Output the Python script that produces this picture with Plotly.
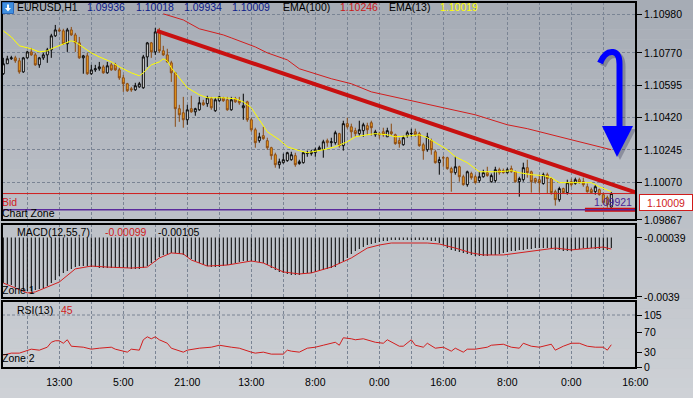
import plotly.graph_objects as go

# ---------------- data ----------------
opens = [1.10657,1.10711,1.10738,1.10743,1.10727,1.10667,1.10743,1.10775,1.10759,1.10705,
1.10743,1.10759,1.10786,1.10862,1.10894,1.10889,1.10819,1.10894,1.10867,1.10824,
1.10743,1.10754,1.10657,1.10678,1.10684,1.10694,1.10662,1.10705,1.10705,1.10678,
1.10635,1.10603,1.10576,1.10570,1.10586,1.10581,1.10748,1.10824,1.10775,1.10883,
1.10781,1.10759,1.10716,1.10662,1.10468,1.10446,1.10408,1.10468,1.10451,1.10462,
1.10500,1.10495,1.10522,1.10457,1.10511,1.10527,1.10516,1.10462,1.10522,1.10511,
1.10473,1.10505,1.10408,1.10354,1.10295,1.10322,1.10295,1.10257,1.10219,1.10165,
1.10176,1.10187,1.10192,1.10214,1.10171,1.10176,1.10225,1.10225,1.10230,1.10246,
1.10246,1.10295,1.10284,1.10284,1.10333,1.10268,1.10387,1.10370,1.10349,1.10333,
1.10349,1.10376,1.10392,1.10327,1.10333,1.10343,1.10316,1.10343,1.10327,1.10295,
1.10273,1.10322,1.10333,1.10343,1.10333,1.10273,1.10246,1.10295,1.10235,1.10176,
1.10203,1.10203,1.10144,1.10122,1.10154,1.10100,1.10057,1.10117,1.10100,1.10079,
1.10100,1.10122,1.10073,1.10079,1.10138,1.10133,1.10122,1.10144,1.10127,1.10073,
1.10084,1.10149,1.10127,1.10090,1.10084,1.10063,1.10111,1.10090,1.10019,1.09976,
1.10036,1.10014,1.10073,1.10063,1.10084,1.10073,1.10046,1.10030,1.10019,1.10030,
1.10003,1.09987,1.09936]

highs = [1.10743,1.10754,1.10754,1.10754,1.10743,1.10748,1.10781,1.10797,1.10770,1.10748,
1.10770,1.10797,1.10873,1.10921,1.10905,1.10900,1.10905,1.10910,1.10878,1.10856,
1.10759,1.10770,1.10705,1.10705,1.10721,1.10705,1.10721,1.10716,1.10716,1.10689,
1.10651,1.10608,1.10586,1.10608,1.10613,1.10759,1.10829,1.10829,1.10905,1.10905,
1.10808,1.10792,1.10727,1.10667,1.10489,1.10532,1.10489,1.10538,1.10473,1.10532,
1.10516,1.10538,1.10532,1.10527,1.10538,1.10532,1.10532,1.10532,1.10532,1.10532,
1.10549,1.10511,1.10419,1.10365,1.10338,1.10370,1.10311,1.10262,1.10230,1.10198,
1.10225,1.10235,1.10235,1.10230,1.10192,1.10235,1.10241,1.10246,1.10257,1.10268,
1.10300,1.10306,1.10311,1.10349,1.10338,1.10403,1.10419,1.10387,1.10365,1.10403,
1.10392,1.10392,1.10403,1.10354,1.10343,1.10365,1.10365,1.10387,1.10333,1.10311,
1.10322,1.10349,1.10360,1.10360,1.10343,1.10284,1.10338,1.10306,1.10246,1.10208,
1.10214,1.10208,1.10154,1.10208,1.10160,1.10111,1.10133,1.10127,1.10111,1.10127,
1.10138,1.10154,1.10117,1.10154,1.10149,1.10144,1.10149,1.10160,1.10133,1.10100,
1.10176,1.10192,1.10133,1.10095,1.10111,1.10122,1.10122,1.10095,1.10030,1.10046,
1.10041,1.10084,1.10090,1.10095,1.10095,1.10095,1.10063,1.10041,1.10057,1.10036,
1.10014,1.09998,1.10018]

lows = [1.10651,1.10711,1.10732,1.10716,1.10657,1.10662,1.10738,1.10754,1.10700,1.10689,
1.10732,1.10716,1.10743,1.10856,1.10883,1.10813,1.10775,1.10862,1.10775,1.10738,
1.10657,1.10651,1.10651,1.10667,1.10673,1.10657,1.10657,1.10673,1.10673,1.10624,
1.10559,1.10559,1.10559,1.10565,1.10581,1.10576,1.10694,1.10743,1.10759,1.10770,
1.10754,1.10716,1.10613,1.10370,1.10397,1.10365,1.10381,1.10446,1.10430,1.10457,
1.10484,1.10478,1.10462,1.10451,1.10505,1.10505,1.10457,1.10457,1.10500,1.10489,
1.10408,1.10397,1.10343,1.10257,1.10284,1.10300,1.10246,1.10192,1.10149,1.10144,
1.10171,1.10181,1.10187,1.10154,1.10165,1.10171,1.10208,1.10214,1.10208,1.10241,
1.10203,1.10262,1.10262,1.10273,1.10257,1.10241,1.10360,1.10311,1.10316,1.10322,
1.10316,1.10327,1.10322,1.10316,1.10306,1.10316,1.10316,1.10322,1.10273,1.10257,
1.10268,1.10311,1.10316,1.10316,1.10262,1.10192,1.10235,1.10219,1.10171,1.10111,
1.10154,1.10138,1.10019,1.10111,1.10073,1.10052,1.10046,1.10084,1.10063,1.10068,
1.10095,1.10100,1.10068,1.10068,1.10111,1.10117,1.10117,1.10122,1.10068,1.09992,
1.10073,1.10095,1.10014,1.10063,1.10014,1.10057,1.10009,1.10003,1.09944,1.09965,
1.10009,1.10003,1.10046,1.10057,1.10063,1.10046,1.10014,1.10009,1.10003,1.09998,
1.09949,1.09933,1.09934]

closes = [1.10711,1.10738,1.10743,1.10727,1.10667,1.10743,1.10775,1.10759,1.10705,1.10743,
1.10759,1.10786,1.10862,1.10894,1.10889,1.10819,1.10894,1.10867,1.10824,1.10743,
1.10754,1.10657,1.10678,1.10684,1.10694,1.10662,1.10700,1.10678,1.10678,1.10635,
1.10603,1.10565,1.10570,1.10592,1.10603,1.10748,1.10824,1.10775,1.10883,1.10781,
1.10759,1.10721,1.10662,1.10468,1.10435,1.10408,1.10462,1.10451,1.10468,1.10500,
1.10489,1.10527,1.10473,1.10516,1.10532,1.10511,1.10462,1.10516,1.10505,1.10500,
1.10484,1.10408,1.10354,1.10284,1.10316,1.10306,1.10257,1.10214,1.10165,1.10181,
1.10192,1.10230,1.10219,1.10165,1.10181,1.10230,1.10230,1.10235,1.10246,1.10257,
1.10289,1.10284,1.10289,1.10338,1.10268,1.10387,1.10370,1.10343,1.10333,1.10354,
1.10381,1.10354,1.10365,1.10343,1.10327,1.10327,1.10349,1.10333,1.10279,1.10279,
1.10311,1.10338,1.10334,1.10327,1.10268,1.10241,1.10316,1.10246,1.10176,1.10192,
1.10202,1.10144,1.10122,1.10154,1.10100,1.10057,1.10127,1.10095,1.10068,1.10100,
1.10122,1.10106,1.10106,1.10138,1.10122,1.10122,1.10138,1.10127,1.10073,1.10090,
1.10149,1.10122,1.10073,1.10073,1.10068,1.10111,1.10090,1.10014,1.09976,1.10036,
1.10014,1.10068,1.10057,1.10084,1.10068,1.10057,1.10019,1.10014,1.10046,1.10003,
1.09960,1.09949,1.10009]

bars = list(range(len(closes)))

ema13_idx = [0,2,4,7,9,11,12,14,16,17,18,20,22,24,27,29,32,34,35,37,39,40,41,42,44,46,49,51,55,58,
             60,62,64,66,69,71,74,76,80,83,86,88,91,93,96,98,102,104,106,108,111,113,116,119,122,
             124,127,129,132,135,137,139,142,144,147,149,151,152]
ema13_val = [1.10889,1.10856,1.10808,1.10792,1.10775,1.10781,1.10792,1.10808,1.10824,1.10835,
             1.10829,1.10797,1.10770,1.10748,1.10721,1.10694,1.10662,1.10646,1.10662,1.10705,
             1.10721,1.10738,1.10727,1.10689,1.10635,1.10581,1.10543,1.10527,1.10527,1.10522,
             1.10505,1.10473,1.10408,1.10343,1.10300,1.10262,1.10241,1.10230,1.10246,1.10262,
             1.10289,1.10316,1.10327,1.10333,1.10327,1.10316,1.10322,1.10327,1.10311,1.10284,
             1.10246,1.10208,1.10176,1.10127,1.10127,1.10127,1.10133,1.10122,1.10111,1.10106,
             1.10095,1.10068,1.10068,1.10068,1.10068,1.10046,1.10025,1.10019]

ema100_idx = [40,45,49,55,57,63,66,71,74,82,87,92,101,109,118,126,131,142,150,152]
ema100_val = [1.10981,1.10948,1.10900,1.10867,1.10851,1.10802,1.10770,1.10732,1.10684,1.10630,
              1.10603,1.10559,1.10516,1.10478,1.10435,1.10381,1.10360,1.10300,1.10257,1.10246]

trend_x = [38.4, 158.2]
trend_y = [1.10889, 1.10014]
zone_seg_x = [145.4, 158.2]
bid_price = 1.10009
zone_price = 1.09921

macd_hist = [-0.00307,-0.00313,-0.00319,-0.00331,-0.00342,-0.00348,-0.00354,-0.00354,-0.00348,-0.00342,
-0.00337,-0.00325,-0.00307,-0.00289,-0.00265,-0.00247,-0.00235,-0.00223,-0.00212,-0.00206,
-0.00206,-0.00206,-0.00212,-0.00212,-0.00218,-0.00218,-0.00218,-0.00218,-0.00218,-0.00218,
-0.00218,-0.00218,-0.00223,-0.00223,-0.00223,-0.00218,-0.00206,-0.00188,-0.00170,-0.00152,
-0.00140,-0.00134,-0.00128,-0.00128,-0.00134,-0.00140,-0.00152,-0.00164,-0.00176,-0.00188,
-0.00200,-0.00206,-0.00212,-0.00212,-0.00212,-0.00206,-0.00200,-0.00194,-0.00188,-0.00182,
-0.00176,-0.00176,-0.00176,-0.00176,-0.00182,-0.00188,-0.00200,-0.00218,-0.00229,-0.00241,
-0.00247,-0.00253,-0.00259,-0.00259,-0.00259,-0.00253,-0.00247,-0.00247,-0.00241,-0.00235,
-0.00229,-0.00223,-0.00218,-0.00212,-0.00194,-0.00176,-0.00158,-0.00134,-0.00116,-0.00104,
-0.00093,-0.00081,-0.00075,-0.00069,-0.00063,-0.00057,-0.00057,-0.00051,-0.00051,-0.00051,
-0.00051,-0.00051,-0.00051,-0.00051,-0.00051,-0.00051,-0.00051,-0.00057,-0.00057,-0.00069,
-0.00081,-0.00099,-0.00110,-0.00116,-0.00122,-0.00128,-0.00134,-0.00140,-0.00146,-0.00146,
-0.00146,-0.00146,-0.00140,-0.00140,-0.00134,-0.00128,-0.00122,-0.00116,-0.00116,-0.00110,
-0.00110,-0.00104,-0.00104,-0.00099,-0.00099,-0.00099,-0.00099,-0.00104,-0.00110,-0.00110,
-0.00116,-0.00116,-0.00116,-0.00110,-0.00104,-0.00099,-0.00099,-0.00099,-0.00104,-0.00104,
-0.00110,-0.00110,-0.00099]
macd_base = -0.00036

sig_idx = [0,6,8,14,18,22,26,32,36,39,42,45,47,51,56,62,65,70,74,77,82,87,91,94,97,106,109,113,
           117,120,125,129,134,138,142,147,150,152]
sig_val = [-0.00307,-0.00366,-0.00360,-0.00301,-0.00223,-0.00206,-0.00212,-0.00218,-0.00212,-0.00158,
           -0.00128,-0.00134,-0.00170,-0.00206,-0.00200,-0.00176,-0.00188,-0.00241,-0.00253,-0.00247,
           -0.00212,-0.00158,-0.00099,-0.00081,-0.00069,-0.00069,-0.00075,-0.00099,-0.00128,-0.00140,
           -0.00140,-0.00128,-0.00110,-0.00099,-0.00110,-0.00099,-0.00093,-0.00105]

rsi_idx = [0,2,4,6,7,9,11,12,13,14,15,16,17,20,22,24,27,28,31,32,34,35,36,37,38,39,41,42,45,46,
           49,52,54,57,59,62,63,65,67,70,71,72,74,76,78,80,82,83,84,85,87,88,90,93,95,96,99,100,
           102,103,105,106,108,110,112,113,115,116,118,121,122,125,127,129,130,132,134,135,137,
           138,140,142,144,146,148,150,151,152]
rsi_val = [24,28,28,34,36,34,40,50,53,53,48,55,42,40,36,38,40,36,30,36,34,55,61,57,61,55,48,38,30,34,
           38,40,44,40,38,30,28,30,26,26,34,32,30,38,40,44,48,50,44,59,57,55,57,50,48,55,42,42,
           55,44,40,48,38,40,32,38,30,36,36,40,44,46,40,38,48,42,40,42,46,34,42,48,48,42,40,40,34,45]

price_ticks = [1.10980, 1.10770, 1.10595, 1.10420, 1.10245, 1.10070, 1.09867]
macd_ticks = [-0.00039, -0.0039]
macd_ticktext = ["-0.00039", "-0.0039"]
rsi_ticks = [0, 30, 70, 105]
grid_idx = list(range(6, 159, 8))
time_label_idx = [14, 30, 46, 62, 78, 94, 110, 126, 142, 158]
time_labels = ["13:00", "5:00", "21:00", "13:00", "8:00", "0:00", "16:00", "8:00", "0:00", "16:00"]

# ---------------- layout helpers ----------------
W, H = 693, 398
PL, PR, PT, PB = 2, 636, 2, 368
def fx(x): return (x - PL) / (PR - PL)
def fy(y): return (PB - y) / (PB - PT)

FONT = "Liberation Sans"
FS = 10.5
GRID = "#7a8494"
RED = "#d01c1c"

fig = go.Figure()

fig.add_trace(go.Candlestick(
    x=bars, open=opens, high=highs, low=lows, close=closes,
    xaxis="x", yaxis="y", whiskerwidth=0,
    increasing=dict(line=dict(color="black", width=1), fillcolor="white"),
    decreasing=dict(line=dict(color="#8a4a12", width=1), fillcolor="#f5a21c"),
    hoverinfo="skip"))
fig.add_trace(go.Scatter(x=ema100_idx, y=ema100_val, mode="lines",
                         line=dict(color="#d21e1e", width=1), xaxis="x", yaxis="y"))
fig.add_trace(go.Scatter(x=ema13_idx, y=ema13_val, mode="lines",
                         line=dict(color="#ffff00", width=1), xaxis="x", yaxis="y"))
fig.add_trace(go.Scatter(x=trend_x, y=trend_y, mode="lines",
                         line=dict(color="#c81010", width=4), xaxis="x", yaxis="y"))
fig.add_trace(go.Scatter(x=zone_seg_x, y=[zone_price, zone_price], mode="lines",
                         line=dict(color="#cc0a0a", width=4), xaxis="x", yaxis="y"))

fig.add_trace(go.Bar(x=bars, y=[v - macd_base for v in macd_hist], base=macd_base,
                     width=0.25, marker=dict(color="black", line=dict(width=0)),
                     xaxis="x", yaxis="y2"))
fig.add_trace(go.Scatter(x=sig_idx, y=sig_val, mode="lines",
                         line=dict(color="#d21e1e", width=1), xaxis="x", yaxis="y2"))
fig.add_trace(go.Scatter(x=rsi_idx, y=rsi_val, mode="lines",
                         line=dict(color="#d21e1e", width=1), xaxis="x", yaxis="y3"))

ticktext_x = [time_labels[time_label_idx.index(i)] if i in time_label_idx else "" for i in grid_idx]

axis_common = dict(side="right", anchor="x", ticks="outside", ticklen=5, tickcolor="black",
                   tickwidth=1, zeroline=False, showline=False, automargin=False,
                   tickfont=dict(family=FONT, size=FS, color="black"))

fig.update_layout(
    width=W, height=H, margin=dict(l=PL, r=W - PR, t=PT, b=H - PB, autoexpand=False),
    paper_bgcolor="#bfc3c9", plot_bgcolor="rgba(0,0,0,0)",
    showlegend=False, hovermode=False,
    font=dict(family=FONT, size=FS, color="black"),
    xaxis=dict(domain=[0, 1], anchor="y3", range=[-0.325, 158.175], automargin=False,
               tickvals=grid_idx, ticktext=ticktext_x, showgrid=True, gridcolor=GRID,
               griddash="3px,2px", gridwidth=1, zeroline=False, showline=False,
               ticks="outside", ticklen=4, tickcolor="rgba(0,0,0,0)",
               rangeslider=dict(visible=False),
               tickfont=dict(family=FONT, size=FS, color="black")),
    yaxis=dict(domain=[fy(220), 1], range=[1.09866, 1.11045], tickvals=price_ticks,
               ticktext=[f"{v:.5f}" for v in price_ticks], showgrid=True, gridcolor=GRID,
               griddash="3px,2px", gridwidth=1, **axis_common),
    yaxis2=dict(domain=[fy(298), fy(224)], range=[-0.00396, 0.00044], tickvals=macd_ticks,
                ticktext=macd_ticktext, showgrid=False, **axis_common),
    yaxis3=dict(domain=[0, fy(301)], range=[-2, 133.3], tickvals=rsi_ticks,
                ticktext=[str(v) for v in rsi_ticks], showgrid=False, **axis_common),
)

shapes = []
# background gradient
top_c = (166, 172, 181)
bot_c = (206, 209, 214)
NB = 40
for k in range(NB):
    y0 = H * k / NB
    y1 = H * (k + 1) / NB
    t = (k + 0.5) / NB
    c = tuple(int(round(top_c[j] + (bot_c[j] - top_c[j]) * t)) for j in range(3))
    shapes.append(dict(type="rect", xref="paper", yref="paper", layer="below",
                       x0=fx(0), x1=fx(W), y0=fy(y1), y1=fy(y0),
                       fillcolor="rgb(%d,%d,%d)" % c, line=dict(width=0)))

# horizontal price lines
shapes.append(dict(type="line", xref="paper", yref="y", x0=0, x1=1, y0=bid_price, y1=bid_price,
                   line=dict(color=RED, width=1), layer="above"))
shapes.append(dict(type="line", xref="paper", yref="y", x0=0, x1=1, y0=zone_price, y1=zone_price,
                   line=dict(color="#5a2a9c", width=1.5), layer="above"))
# RSI upper dashed level
shapes.append(dict(type="line", xref="paper", yref="y3", x0=0, x1=1, y0=105, y1=105,
                   line=dict(color=GRID, width=1, dash="3px,2px"), layer="below"))

# blue hand-drawn arrow (shadow + arrow)
def hook_path(dx, dy):
    return (f"M{fx(600+dx)},{fy(63+dy)} Q{fx(605+dx)},{fy(51+dy)} {fx(613+dx)},{fy(52+dy)} "
            f"Q{fx(619.5+dx)},{fy(53+dy)} {fx(619.5+dx)},{fy(64+dy)} L{fx(619.5+dx)},{fy(128+dy)}")
def head_path(dx, dy):
    return (f"M{fx(602+dx)},{fy(126+dy)} L{fx(633+dx)},{fy(126+dy)} L{fx(617+dx)},{fy(157+dy)} Z")
shapes.append(dict(type="path", xref="paper", yref="paper", path=hook_path(3, 3),
                   line=dict(color="rgba(40,40,70,0.30)", width=6)))
shapes.append(dict(type="path", xref="paper", yref="paper", path=head_path(3, 3),
                   fillcolor="rgba(40,40,70,0.30)", line=dict(width=0)))
shapes.append(dict(type="path", xref="paper", yref="paper", path=hook_path(0, 0),
                   line=dict(color="#0000ff", width=6)))
shapes.append(dict(type="path", xref="paper", yref="paper", path=head_path(0, 0),
                   fillcolor="#0000ff", line=dict(width=0)))

# panel borders
for (ya, yb) in [(220, 2), (298, 224), (368, 301)]:
    shapes.append(dict(type="rect", xref="paper", yref="paper", x0=0, x1=1,
                       y0=fy(ya), y1=fy(yb), line=dict(color="black", width=2),
                       fillcolor="rgba(0,0,0,0)", layer="above"))

# header icon
shapes.append(dict(type="rect", xref="paper", yref="paper", x0=fx(2.5), x1=fx(13.5),
                   y0=fy(13.5), y1=fy(2.5), fillcolor="#3f8fe0",
                   line=dict(color="#2a66b8", width=1), layer="above"))
shapes.append(dict(type="path", xref="paper", yref="paper",
                   path=(f"M{fx(7)},{fy(4.5)} L{fx(9)},{fy(4.5)} L{fx(9)},{fy(8)} L{fx(11)},{fy(8)} "
                         f"L{fx(8)},{fy(11.5)} L{fx(5)},{fy(8)} L{fx(7)},{fy(8)} Z"),
                   fillcolor="white", line=dict(width=0), layer="above"))

fig.update_layout(shapes=shapes)

ann = []
def txt(x, y, s, color="black", size=FS):
    ann.append(dict(xref="paper", yref="paper", x=fx(x), y=fy(y), text=s, showarrow=False,
                    xanchor="left", yanchor="middle", borderpad=0, borderwidth=0,
                    font=dict(family=FONT, size=size, color=color)))

NAVY = "#0b1a8a"
txt(17, 7.5, "EURUSD,H1")
txt(87, 7.5, "1.09936", NAVY)
txt(136, 7.5, "1.10018", NAVY)
txt(184, 7.5, "1.09934", NAVY)
txt(232, 7.5, "1.10009", NAVY)
txt(283, 7.5, "EMA(100)")
txt(340, 7.5, "1.10246", "#c81818")
txt(389, 7.5, "EMA(13)")
txt(440, 7.5, "1.10019", "#ffff00")

txt(2, 202, "Bid", RED)
txt(2, 212.5, "Chart Zone")
txt(594, 202, "1.09921", "#4a2596")

txt(17, 232, "MACD(12,55,7)")
txt(105, 232, "-0.00099", RED)
txt(158, 232, "-0.00105")
txt(2, 290, "Zone 1")

txt(17, 309.5, "RSI(13)")
txt(61, 309.5, "45", RED)
txt(2, 358, "Zone 2")

# bid price box on the axis
ann.append(dict(xref="paper", yref="paper", x=fx(639), y=fy(202.5), text="1.10009",
                showarrow=False, xanchor="left", yanchor="middle", width=50, height=13,
                align="center", bgcolor="white", bordercolor=RED, borderwidth=1, borderpad=1,
                font=dict(family=FONT, size=FS, color=RED)))

fig.update_layout(annotations=ann)

fig.write_html("out.html", include_plotlyjs=True,
               config={"displayModeBar": False, "staticPlot": True},
               post_script="document.body.style.margin='0px';document.body.style.overflow='hidden';")
